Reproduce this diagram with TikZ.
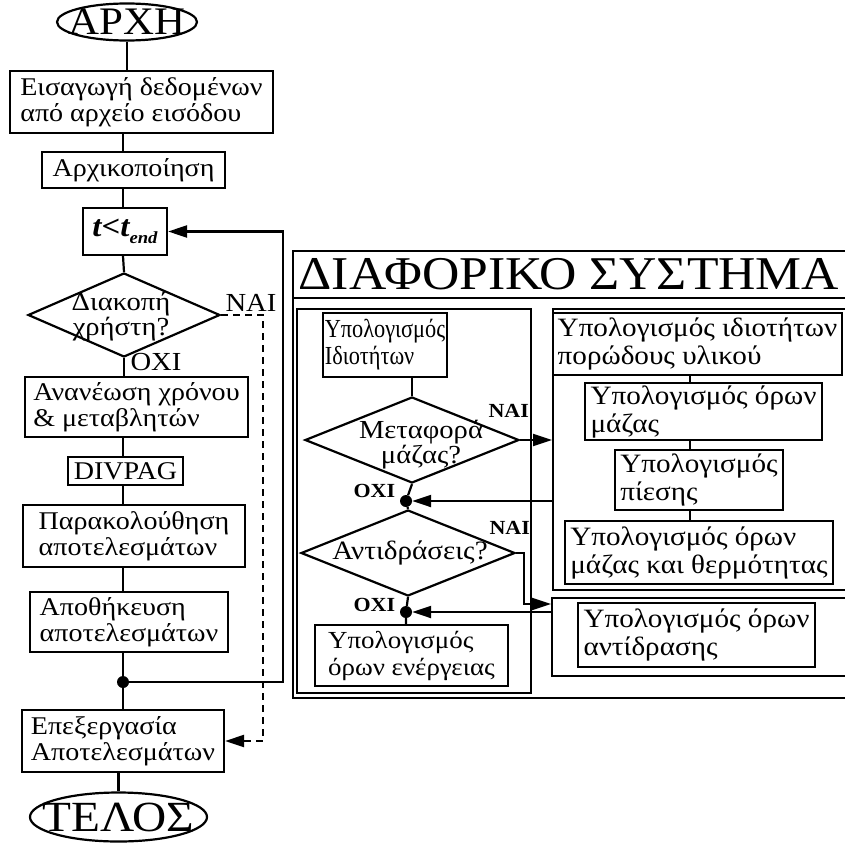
\documentclass[tikz,border=0pt]{standalone}
\usepackage{fontspec}
\usepackage{graphicx}
\setmainfont[FakeStretch=1.1]{Liberation Serif}
\usetikzlibrary{shapes.geometric,arrows.meta}
\newcommand\fsz[2]{\fontsize{#1}{#2}\selectfont}
\newcommand\narrow[1]{\scalebox{0.78}[1]{#1}}
\begin{document}
\begin{tikzpicture}[x=1pt,y=-1pt,
  box/.style={draw, line width=2.2pt, align=left, inner sep=2pt, font=\fsz{25.5}{26.5}},
  rbox/.style={box, font=\fsz{26.5}{28}},
  term/.style={ellipse, draw, line width=2.2pt, inner sep=0pt},
  dec/.style={diamond, draw, line width=2.2pt, inner sep=0pt},
  panel/.style={draw, line width=2.2pt, inner sep=0pt, anchor=north west},
  conn/.style={line width=2.2pt},
  arr/.style={conn, -{Triangle[length=19pt,width=12pt]}},
  dashconn/.style={line width=2.2pt, dash pattern=on 7pt off 5pt, -{Triangle[length=19pt,width=12pt]}},
  yn/.style={font=\fsz{26}{28}},
  ynb/.style={font=\fsz{20}{22}\bfseries},
  dot/.style={circle, fill, inner sep=0pt, minimum size=12pt},
  lbl/.style={font=\fsz{26}{25}, align=center}]
\useasboundingbox (0,0) rectangle (845,843);
\clip (0,0) rectangle (845,843);
% left column
\node[term, minimum width=140pt, minimum height=37pt,
  label={[font=\fsz{39}{39}]center:ΑΡΧΗ}] (start) at (127,22) {};
\node[box, minimum width=263pt, minimum height=62pt] (b1) at (141.5,102) {Εισαγωγή δεδομένων\\από αρχείο εισόδου};
\node[box, minimum width=183pt, minimum height=36pt] (b2) at (133.5,170) {Αρχικοποίηση};
\node[box, minimum width=84pt, minimum height=47pt, font=\fsz{30}{30}] (b3) at (125,231.5) {{\bfseries\itshape t<t}\raisebox{-7pt}{\fsz{17}{17}\bfseries\itshape end}};
\node[dec, minimum width=192pt, minimum height=84pt] (d1) at (124,315) {};
\node[lbl] (d1t) at (121,317) {Διακοπή\\χρήστη?};
\node[yn, anchor=base west] (nai1) at (222,311) {ΝΑΙ};
\node[yn, anchor=base west] (oxi1) at (127,370) {ΟΧΙ};
\node[box, minimum width=223pt, minimum height=60pt] (b4) at (136.5,407) {Ανανέωση χρόνου\\\& μεταβλητών};
\node[box, minimum width=115pt, minimum height=28pt] (b5) at (125.5,471) {DIVPAG};
\node[box, minimum width=222pt, minimum height=62pt] (b6) at (134,536) {Παρακολούθηση\\αποτελεσμάτων};
\node[box, minimum width=198pt, minimum height=60pt] (b7) at (129,622) {Αποθήκευση\\αποτελεσμάτων};
\node[dot] (j1) at (123,682) {};
\node[box, minimum width=202pt, minimum height=62pt] (b8) at (123,741) {Επεξεργασία\\Αποτελεσμάτων};
\node[term, minimum width=177pt, minimum height=49pt,
  label={[font=\fsz{43}{43}]center:ΤΕΛΟΣ}] (end) at (118.5,817) {};
\coordinate (cx) at (123,0);
\coordinate (fb) at (283,682);
\coordinate (dsh) at (263,315);
\draw[conn] (start.south) -- (start.south |- b1.north);
\draw[conn] (b1.south -| cx) -- (b2.north -| cx);
\draw[conn] (b2.south -| cx) -- (b3.north -| cx);
\draw[conn] (b3.south -| cx) -- (d1.north);
\draw[conn] (d1.south) -- (b4.north -| d1.south);
\draw[conn] (b4.south -| cx) -- (b5.north -| cx);
\draw[conn] (b5.south -| cx) -- (b6.north -| cx);
\draw[conn] (b6.south -| cx) -- (b7.north -| cx);
\draw[conn] (b7.south -| cx) -- (j1) -- (b8.north -| cx);
\draw[conn] (b8.south -| end.north) -- (end.north);
\draw[arr] (j1) -- (fb) -- (fb |- b3.east) -- (b3.east);
\draw[dashconn] (d1.east) -- (dsh) -- (dsh |- b8.east) -- (b8.east);
% differential system
\node[panel, minimum width=578pt, minimum height=447pt] (outer) at (292,250) {};
\draw[line width=2.4pt] (outer.north west |- 0,298) -- (outer.north east |- 0,298);
\node[font=\fsz{47}{47}] (title) at (569,274) {ΔΙΑΦΟΡΙΚΟ ΣΥΣΤΗΜΑ};
\node[panel, minimum width=234pt, minimum height=384pt] (pLeft) at (296,308) {};
\node[panel, minimum width=318pt, minimum height=281pt] (pU) at (552,308) {};
\node[panel, minimum width=319pt, minimum height=78pt] (pL) at (551,597) {};
% left panel
\node[rbox, minimum width=120pt, minimum height=64pt, font=\fsz{26}{27}] (pA) at (385,345) {\narrow{Υπολογισμός}\\\narrow{Ιδιοτήτων}};
\node[dec, minimum width=214pt, minimum height=86pt] (d2) at (412,440) {};
\node[lbl] (d2t) at (421,445) {Μεταφορά\\μάζας?};
\node[ynb, anchor=base west] (nai2) at (485,417) {ΝΑΙ};
\node[ynb, anchor=base west] (oxi2) at (350,497) {ΟΧΙ};
\node[dot] (j2) at (406,501) {};
\node[dec, minimum width=214pt, minimum height=86pt] (d3) at (408,553) {};
\node[lbl, font=\fsz{26.5}{27}] (d3t) at (410,553) {Αντιδράσεις?};
\node[ynb, anchor=base west] (nai3) at (486,534) {ΝΑΙ};
\node[ynb, anchor=base west] (oxi3) at (350,611) {ΟΧΙ};
\node[dot] (j3) at (406,612) {};
\node[rbox, minimum width=193pt, minimum height=61pt, font=\fsz{24.5}{27}] (pE) at (411.5,655.5) {Υπολογισμός\\όρων ενέργειας};
\coordinate (k1) at (524,553);
\coordinate (k2) at (524,604);
\draw[conn] (pA.south -| d2.north) -- (d2.north);
\draw[arr] (d2.east) -- (d2.east -| pU.west);
\draw[conn] (d2.south) -- (j2) -- (d3.north);
\draw[arr] (j2 -| pU.west) -- (j2);
\draw[arr] (d3.east) -- (k1) -- (k2) -- (k2 -| pL.west);
\draw[conn] (d3.south) -- (j3) -- (pE.north -| j3);
\draw[arr] (j3 -| pL.west) -- (j3);
% right panels
\node[rbox, minimum width=289pt, minimum height=62pt] (r1) at (697.5,344) {Υπολογισμός ιδιοτήτων\\πορώδους υλικού};
\node[rbox, minimum width=237pt, minimum height=57pt] (r2) at (703.5,411.5) {Υπολογισμός όρων\\μάζας};
\node[rbox, minimum width=168pt, minimum height=60pt] (r3) at (699,480) {Υπολογισμός\\πίεσης};
\node[rbox, minimum width=268pt, minimum height=63pt] (r4) at (699,552.5) {Υπολογισμός όρων\\μάζας και θερμότητας};
\node[rbox, minimum width=237pt, minimum height=64pt] (r5) at (696.5,635) {Υπολογισμός όρων\\αντίδρασης};
\coordinate (rx) at (690,0);
\draw[conn] (r1.south -| rx) -- (r2.north -| rx);
\draw[conn] (r2.south -| rx) -- (r3.north -| rx);
\draw[conn] (r3.south -| rx) -- (r4.north -| rx);
\end{tikzpicture}
\end{document}
